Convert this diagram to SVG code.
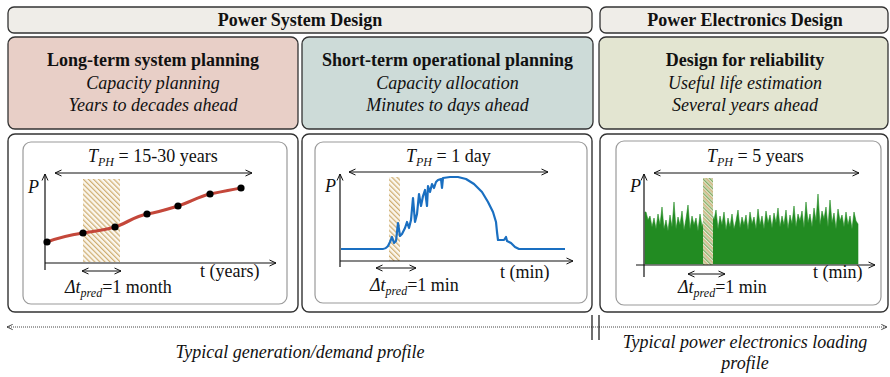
<svg xmlns="http://www.w3.org/2000/svg" width="890" height="377" viewBox="0 0 890 377">
<style>
text{font-family:"Liberation Serif","Times New Roman",serif;font-size:18px;fill:#111}
.b{font-weight:bold}
.i{font-style:italic}
.hdr{fill:#efede8;stroke:#333;stroke-width:1.3}
.outer{fill:#fff;stroke:#333;stroke-width:1.4}
.inner{fill:#fff;stroke:#9a9a9a;stroke-width:1.2}
.ax{stroke:#111;stroke-width:1.2;fill:none}
.dim{stroke:#111;stroke-width:1;fill:none}
</style>
<defs>
<marker id="ah" viewBox="0 0 8 8" refX="7.5" refY="4" markerWidth="8" markerHeight="8" markerUnits="userSpaceOnUse" orient="auto-start-reverse">
<path d="M1,1 L7.5,4 L1,7" fill="none" stroke="#111" stroke-width="1"/>
</marker>
<marker id="ah2" viewBox="0 0 8 8" refX="7.5" refY="4" markerWidth="7" markerHeight="7" markerUnits="userSpaceOnUse" orient="auto-start-reverse">
<path d="M1,1 L7.5,4 L1,7" fill="none" stroke="#333" stroke-width="1"/>
</marker>
<pattern id="hatchTan" width="3.6" height="3.6" patternUnits="userSpaceOnUse" patternTransform="rotate(-45)">
<rect width="3.6" height="3.6" fill="#fbf7ee"/>
<rect width="1.2" height="3.6" fill="#cfae72"/>
</pattern>
<pattern id="hatchGreen" width="5" height="5" patternUnits="userSpaceOnUse" patternTransform="rotate(-45)">
<rect width="5" height="5" fill="#e4ecd8"/>
<rect width="1.3" height="5" fill="#86ab62"/>
<rect x="2.5" width="1.3" height="5" fill="#c9a86a"/>
</pattern>
</defs>

<g id="hdr-psd">
<rect class="hdr" x="8" y="7" width="584" height="26" rx="6"/>
<text class="b" x="300" y="26" text-anchor="middle">Power System Design</text>
</g>
<g id="hdr-ped">
<rect class="hdr" x="600" y="7" width="288" height="26" rx="6"/>
<text class="b" x="745" y="26" text-anchor="middle">Power Electronics Design</text>
</g>

<g id="box-long">
<rect x="8" y="37" width="290" height="92" rx="7" fill="#e8cfc7" stroke="#333" stroke-width="1.3"/>
<text class="b" x="153" y="66" text-anchor="middle">Long-term system planning</text>
<text class="i" x="153" y="89" text-anchor="middle">Capacity planning</text>
<text class="i" x="153" y="111" text-anchor="middle">Years to decades ahead</text>
</g>
<g id="box-short">
<rect x="302" y="37" width="291" height="92" rx="7" fill="#cddbd8" stroke="#333" stroke-width="1.3"/>
<text class="b" x="447.5" y="66" text-anchor="middle">Short-term operational planning</text>
<text class="i" x="447.5" y="89" text-anchor="middle">Capacity allocation</text>
<text class="i" x="447.5" y="111" text-anchor="middle">Minutes to days ahead</text>
</g>
<g id="box-rel">
<rect x="599" y="37" width="289" height="92" rx="7" fill="#e3e5d1" stroke="#333" stroke-width="1.3"/>
<text class="b" x="745" y="66" text-anchor="middle">Design for reliability</text>
<text class="i" x="745" y="89" text-anchor="middle">Useful life estimation</text>
<text class="i" x="745" y="111" text-anchor="middle">Several years ahead</text>
</g>

<g id="plot-long">
<rect class="outer" x="8" y="134" width="290" height="178" rx="7"/>
<rect class="inner" x="23" y="142" width="264" height="162" rx="8"/>
<rect x="83" y="179" width="37" height="83" fill="url(#hatchTan)"/>
<path class="ax" d="M45,270 V174" marker-end="url(#ah)"/>
<path class="ax" d="M45,263 H276" marker-end="url(#ah)"/>
<path d="M47,242 C60,237 70,235 83,233 S105,230 115,227 S135,216 147,214 S168,209 178,206 S200,196 210,194 S230,190 241,188" fill="none" stroke="#c4473a" stroke-width="3.2" stroke-linecap="round"/>
<g fill="#000">
<circle cx="47" cy="242" r="3.6"/><circle cx="83" cy="233" r="3.6"/><circle cx="115" cy="227" r="3.6"/><circle cx="147" cy="214" r="3.6"/><circle cx="178" cy="206" r="3.6"/><circle cx="210" cy="194" r="3.6"/><circle cx="241" cy="188" r="3.6"/>
</g>
<path class="dim" d="M55,173 H252" marker-start="url(#ah)" marker-end="url(#ah)"/>
<path class="dim" d="M82,271 H121" marker-start="url(#ah)" marker-end="url(#ah)"/>
<text class="i" x="28" y="193">P</text>
<text x="88" y="162"><tspan class="i">T</tspan><tspan class="i" font-size="12" dy="4">PH</tspan><tspan dy="-4"> = 15-30 years</tspan></text>
<text x="200" y="277">t (years)</text>
<text x="65" y="293"><tspan class="i">Δt</tspan><tspan class="i" font-size="12" dy="4">pred</tspan><tspan dy="-4">=1 month</tspan></text>
</g>

<g id="plot-short">
<rect class="outer" x="302" y="134" width="290" height="178" rx="7"/>
<rect class="inner" x="315" y="142" width="272" height="161" rx="8"/>
<rect x="389" y="177" width="11" height="84" fill="url(#hatchTan)"/>
<path class="ax" d="M340,267 V174" marker-end="url(#ah)"/>
<path class="ax" d="M340,261 H573" marker-end="url(#ah)"/>
<path d="M341,249 L383,249 C386,249 387,247 388,246 L390,242 L392,237 L394,243 L396,241 L398,223 L400,236 L402,234 L405,228 L407,222 L409,228 L411,220 L413,198 L415,222 L417,214 L419,194 L421,206 L423,196 L425,190 L427,206 L428,186 L430,192 L432,184 L434,188 L436,182 L438,180 L441,179 L442,188 L443,178 L450,177 L458,177 L466,179 L474,184 L482,192 L488,202 L493,212 L496,222 L497,232 L498,240 L504,240 L506,237 L507,241 L511,243 L515,247 L519,249 L565,249" fill="none" stroke="#1a6fc1" stroke-width="2.2" stroke-linejoin="round"/>
<path class="dim" d="M349,172 H548" marker-start="url(#ah)" marker-end="url(#ah)"/>
<path class="dim" d="M376,268 H416" marker-start="url(#ah)" marker-end="url(#ah)"/>
<text class="i" x="325" y="192">P</text>
<text x="406" y="162"><tspan class="i">T</tspan><tspan class="i" font-size="12" dy="4">PH</tspan><tspan dy="-4"> = 1 day</tspan></text>
<text x="500" y="278">t (min)</text>
<text x="370" y="291"><tspan class="i">Δt</tspan><tspan class="i" font-size="12" dy="4">pred</tspan><tspan dy="-4">=1 min</tspan></text>
</g>

<g id="plot-pe">
<rect class="outer" x="600" y="134" width="288" height="178" rx="7"/>
<rect class="inner" x="616" y="141" width="265" height="164" rx="8"/>
<path d="M645,264 L645,212 L646,212 L648,220 L650,216 L652,227 L654,218 L656,229 L658,214 L660,225 L662,207 L664,229 L666,220 L668,231 L670,215 L672,227 L674,202 L676,229 L678,217 L680,225 L682,211 L684,230 L686,219 L688,205 L690,229 L692,216 L694,225 L696,218 L698,231 L700,214 L702,227 L704,220 L706,229 L708,216 L710,227 L712,214 L714,220 L716,210 L718,229 L720,216 L722,225 L724,212 L726,230 L728,218 L730,227 L732,214 L734,229 L736,221 L738,210 L740,228 L742,217 L744,225 L746,215 L748,230 L750,212 L752,224 L754,217 L756,229 L758,209 L760,225 L762,216 L764,229 L766,211 L768,223 L770,215 L772,228 L774,213 L776,223 L778,208 L780,227 L782,216 L784,225 L786,210 L788,229 L790,215 L792,224 L794,206 L796,227 L798,214 L800,221 L802,211 L804,228 L806,202 L808,223 L810,214 L812,227 L814,208 L816,221 L818,194 L820,225 L822,211 L824,219 L826,207 L828,227 L830,200 L832,223 L834,213 L836,229 L838,209 L840,221 L842,215 L844,227 L846,212 L848,225 L850,216 L852,229 L854,212 L856,221 L858,224 L858,264 Z" fill="#228b22" stroke="#228b22" stroke-width="0.6"/>
<rect x="703" y="178" width="10" height="87" fill="url(#hatchGreen)"/>
<path class="ax" d="M644,277 V174" marker-end="url(#ah)"/>
<path class="ax" d="M636,265 H875" marker-end="url(#ah)"/>
<path class="dim" d="M654,173 H859" marker-start="url(#ah)" marker-end="url(#ah)"/>
<path class="dim" d="M688,274 H725" marker-start="url(#ah)" marker-end="url(#ah)"/>
<text class="i" x="630" y="192">P</text>
<text x="707" y="162"><tspan class="i">T</tspan><tspan class="i" font-size="12" dy="4">PH</tspan><tspan dy="-4"> = 5 years</tspan></text>
<text x="813" y="278">t (min)</text>
<text x="678" y="293"><tspan class="i">Δt</tspan><tspan class="i" font-size="12" dy="4">pred</tspan><tspan dy="-4">=1 min</tspan></text>
</g>

<g id="connectors">
<path d="M7,327 H887" fill="none" stroke="#444" stroke-width="1" stroke-dasharray="1 1" marker-start="url(#ah2)" marker-end="url(#ah2)"/>
<path d="M592,315 V340 M599,315 V340" stroke="#111" stroke-width="1.2" fill="none"/>
</g>

<g id="labels-bottom">
<text class="i" x="300" y="358" text-anchor="middle">Typical generation/demand profile</text>
<text class="i" x="745" y="348" text-anchor="middle">Typical power electronics loading</text>
<text class="i" x="745" y="369" text-anchor="middle">profile</text>
</g>
</svg>
